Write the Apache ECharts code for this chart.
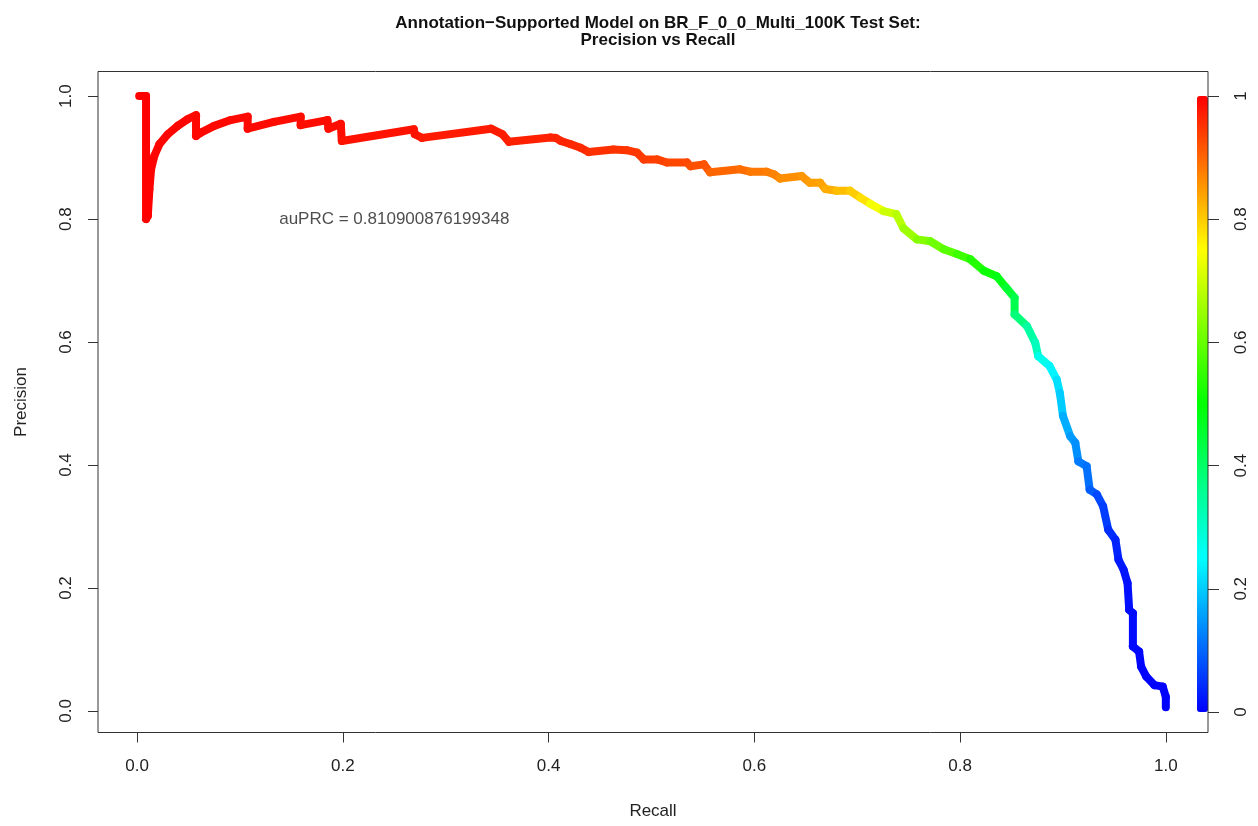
<!DOCTYPE html>
<html>
<head>
<meta charset="utf-8">
<title>Precision vs Recall</title>
<script src="https://cdn.jsdelivr.net/npm/echarts@6/dist/echarts.min.js"></script>
<style>
  html, body { margin: 0; padding: 0; background: #fff; }
  #main { width: 1258px; height: 826px; }
</style>
</head>
<body>
<div id="main"></div>
<script>
// vertices of the PR curve
const recall = [
  0.002, 0.0087, 0.0087, 0.0104, 0.012, 0.0136, 0.0168, 0.0217, 0.0298, 0.0395,
  0.0492, 0.0573, 0.0573, 0.062, 0.075, 0.091, 0.1075, 0.1075, 0.133, 0.159,
  0.159, 0.185, 0.186, 0.198, 0.199, 0.269, 0.27, 0.277, 0.344, 0.355,
  0.3615, 0.402, 0.407, 0.412, 0.421, 0.431, 0.439, 0.463, 0.476, 0.486,
  0.4925, 0.5055, 0.515, 0.5345, 0.538, 0.551, 0.557, 0.586, 0.596, 0.612,
  0.619, 0.625, 0.646, 0.654, 0.664, 0.669, 0.680, 0.693, 0.703, 0.7126,
  0.7255, 0.738, 0.745, 0.758, 0.771, 0.784, 0.797, 0.810, 0.823, 0.8356,
  0.845, 0.853, 0.853, 0.865, 0.873, 0.876, 0.887, 0.894, 0.897, 0.900,
  0.907, 0.912, 0.915, 0.923, 0.926, 0.933, 0.939, 0.944, 0.951, 0.954,
  0.959, 0.9628, 0.9644, 0.968, 0.968, 0.974, 0.976, 0.981, 0.989, 0.997,
  1.0, 1.0
]
const precision = [
  1.0, 1.0, 0.8, 0.805, 0.8485, 0.881, 0.903, 0.922, 0.938, 0.9516,
  0.9625, 0.969, 0.935, 0.9405, 0.9516, 0.961, 0.9666, 0.947, 0.958, 0.9666,
  0.9527, 0.961, 0.947, 0.955, 0.927, 0.946, 0.938, 0.932, 0.947, 0.938,
  0.9256, 0.9327, 0.932, 0.927, 0.922, 0.916, 0.909, 0.913, 0.912, 0.908,
  0.897, 0.897, 0.892, 0.892, 0.886, 0.889, 0.876, 0.881, 0.877, 0.877,
  0.873, 0.866, 0.870, 0.859, 0.859, 0.849, 0.846, 0.846, 0.835, 0.825,
  0.813, 0.808, 0.785, 0.767, 0.764, 0.751, 0.743, 0.7345, 0.716, 0.707,
  0.688, 0.672, 0.645, 0.626, 0.599, 0.577, 0.561, 0.539, 0.517, 0.48,
  0.447, 0.436, 0.406, 0.398, 0.360, 0.352, 0.333, 0.295, 0.2785, 0.246,
  0.2296, 0.208, 0.1645, 0.159, 0.105, 0.0966, 0.072, 0.056, 0.042, 0.0396,
  0.023, 0.006
]
// score threshold at each vertex (drives the colour)
const threshold = [
  1.0, 0.999, 0.998, 0.998, 0.998, 0.997, 0.997, 0.996, 0.996, 0.995,
  0.995, 0.994, 0.994, 0.993, 0.993, 0.992, 0.991, 0.991, 0.99, 0.989,
  0.989, 0.988, 0.988, 0.987, 0.987, 0.982, 0.982, 0.981, 0.975, 0.974,
  0.973, 0.968, 0.967, 0.966, 0.964, 0.962, 0.96, 0.953, 0.95, 0.947,
  0.945, 0.94, 0.936, 0.93, 0.928, 0.922, 0.918, 0.9, 0.893, 0.882,
  0.877, 0.872, 0.86, 0.853, 0.845, 0.84, 0.83, 0.815, 0.80, 0.78,
  0.74, 0.70, 0.68, 0.655, 0.63, 0.61, 0.585, 0.56, 0.535, 0.51,
  0.48, 0.45, 0.425, 0.38, 0.34, 0.315, 0.27, 0.24, 0.22, 0.2,
  0.17, 0.15, 0.14, 0.12, 0.11, 0.09, 0.07, 0.06, 0.045, 0.035,
  0.025, 0.02, 0.015, 0.012, 0.01, 0.008, 0.006, 0.004, 0.003, 0.002,
  0.001, 0.0
]
const ticks = [0, 0.2, 0.4, 0.6, 0.8, 1]
const auprc = '0.810900876199348'
const auprcAt = [0.25, 0.8]
const rainbow = ['#0000ff', '#00ffff', '#00ff00', '#ffff00', '#ff0000']

const font = "'Liberation Sans', Arial, sans-serif"
const ink = '#222'
const axisGrey = '#333'

const curve = recall.map((r, i) => [r, precision[i], threshold[i]])

const myChart = echarts.init(document.getElementById('main'))

const option = {
  animation: false,
  textStyle: { fontFamily: font },
  title: {
    text: 'Annotation\u2212Supported Model on BR_F_0_0_Multi_100K Test Set:\nPrecision vs Recall',
    left: 653,
    top: 10,
    textAlign: 'center',
    textStyle: { fontSize: 17, fontWeight: 'bold', color: '#111', lineHeight: 17, fontFamily: font }
  },
  grid: [
    // plot box, with R's 4% padding around the 0..1 range
    { left: 98, top: 71.5, width: 1110, height: 661 },
    { left: 1197, top: 96, width: 11, height: 616 }
  ],
  xAxis: [
    {
      type: 'value',
      min: -0.038,
      max: 1.041,
      name: 'Recall',
      nameLocation: 'middle',
      nameGap: 70,
      nameTextStyle: { fontSize: 17, color: ink },
      axisLine: { show: false, onZero: false },
      axisTick: { length: 10, customValues: ticks, lineStyle: { color: axisGrey } },
      splitLine: { show: false },
      axisLabel: { margin: 25, fontSize: 17, color: ink, customValues: ticks, formatter: v => v.toFixed(1) }
    },
    { gridIndex: 1, type: 'value', show: false, min: 0, max: 1 }
  ],
  yAxis: [
    {
      type: 'value',
      min: -0.035,
      max: 1.04,
      name: 'Precision',
      nameLocation: 'middle',
      nameGap: 68,
      nameRotate: 90,
      nameTextStyle: { fontSize: 17, color: ink },
      axisLine: { show: false, onZero: false },
      axisTick: { length: 10, customValues: ticks, lineStyle: { color: axisGrey } },
      splitLine: { show: false },
      axisLabel: { margin: 23, rotate: 90, fontSize: 17, color: ink, customValues: ticks, formatter: v => v.toFixed(1) }
    },
    {
      gridIndex: 1,
      type: 'value',
      position: 'right',
      min: 0,
      max: 1,
      interval: 0.2,
      axisLine: { show: false, onZero: false },
      axisTick: { length: 11, lineStyle: { color: axisGrey } },
      splitLine: { show: false },
      axisLabel: { margin: 25, rotate: 90, fontSize: 17, color: ink }
    }
  ],
  visualMap: {
    type: 'continuous',
    seriesIndex: 0,
    dimension: 2,
    min: 0,
    max: 1,
    left: 1197,
    top: 96,
    itemWidth: 11,
    itemHeight: 616,
    padding: 0,
    calculable: false,
    hoverLink: false,
    inRange: { color: rainbow }
  },
  graphic: [
    {
      type: 'rect',
      z: 100,
      silent: true,
      shape: { x: 98, y: 71.5, width: 1110, height: 661 },
      style: { fill: 'none', stroke: '#333', lineWidth: 1 }
    }
  ],
  series: [
    {
      type: 'custom',
      data: curve,
      encode: { x: 0, y: 1 },
      renderItem (params, api) {
        const i = params.dataIndex
        const j = i === 0 ? 0 : i - 1
        const a = api.coord([recall[j], precision[j]])
        const b = api.coord([api.value(0), api.value(1)])
        return {
          type: 'line',
          shape: { x1: a[0], y1: a[1], x2: b[0], y2: b[1] },
          style: { stroke: api.visual('color'), lineWidth: 8, lineCap: 'round', lineJoin: 'round' }
        }
      }
    },
    {
      type: 'scatter',
      silent: true,
      data: [auprcAt],
      symbolSize: 1,
      itemStyle: { color: 'rgba(0,0,0,0)' },
      label: {
        show: true,
        position: 'inside',
        formatter: 'auPRC = ' + auprc,
        fontSize: 17,
        color: ink
      }
    }
  ]
}

myChart.setOption(option)
</script>
</body>
</html>
